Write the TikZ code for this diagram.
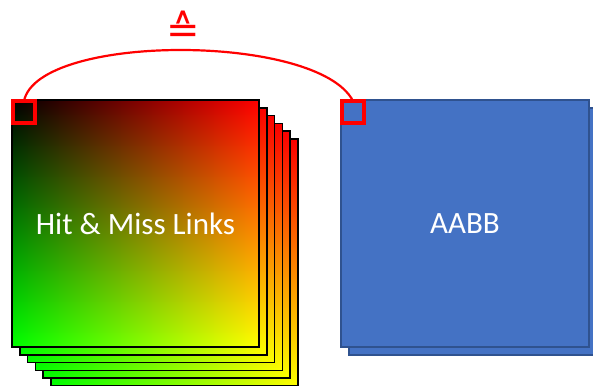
\documentclass[tikz,border=0pt]{standalone}
\usepackage{fontspec}
\setmainfont{Carlito}
\newfontfamily\symfont{DejaVu Sans}
\definecolor{boxblue}{HTML}{4472C4}
\definecolor{boxblueline}{HTML}{2F528F}
\pgfdeclarefunctionalshading{rgmap}{\pgfpoint{-50bp}{-50bp}}{\pgfpoint{50bp}{50bp}}{}{
  25 exch sub 50 div dup 0 lt {pop 0} if dup 1 gt {pop 1} if
  exch 25 add 50 div dup 0 lt {pop 0} if dup 1 gt {pop 1} if
  exch 0
}
\tikzset{
  gradbox/.style={rectangle, draw=black, line width=1.5pt, shading=rgmap,
    minimum width=247pt, minimum height=247pt, inner sep=0pt, outer sep=0pt,
    text=white, font=\fontsize{31}{34}\selectfont},
  bluebox/.style={rectangle, draw=boxblueline, line width=1.5pt, fill=boxblue,
    minimum width=248pt, minimum height=247pt, inner sep=0pt, outer sep=0pt,
    text=white, font=\fontsize{31}{34}\selectfont},
  marker/.style={rectangle, draw=red, line width=4pt, minimum size=22pt,
    inner sep=0pt, outer sep=0pt},
  link/.style={draw=red, line width=2.2pt}
}
\begin{document}
\begin{tikzpicture}[x=1pt,y=-1pt]
\useasboundingbox (0,0) rectangle (593,385);
\clip (0,0) rectangle (593,385);
% gradient stack (back to front)
\foreach \k in {5,4,3,2,1} {
  \node[gradbox] (g\k) at (135.5+7.8*\k, 223.5+7.8*\k) {};
}
\node[gradbox] (g0) at (135.5,223.5) {Hit \& Miss Links};
% blue stack
\node[bluebox] (b1) at (473,231.5) {};
\node[bluebox] (b0) at (465,223.5) {AABB};
% markers
\node[marker] (ls) at (24,112) {};
\node[marker] (rs) at (353,112) {};
\draw[link] (ls.north) .. controls (38,33) and (318,33) .. (rs.north);
\node[text=red, font=\symfont\fontsize{40}{44}\selectfont, inner sep=0pt] (eq) at (183.5,27) {≙};
\end{tikzpicture}
\end{document}
